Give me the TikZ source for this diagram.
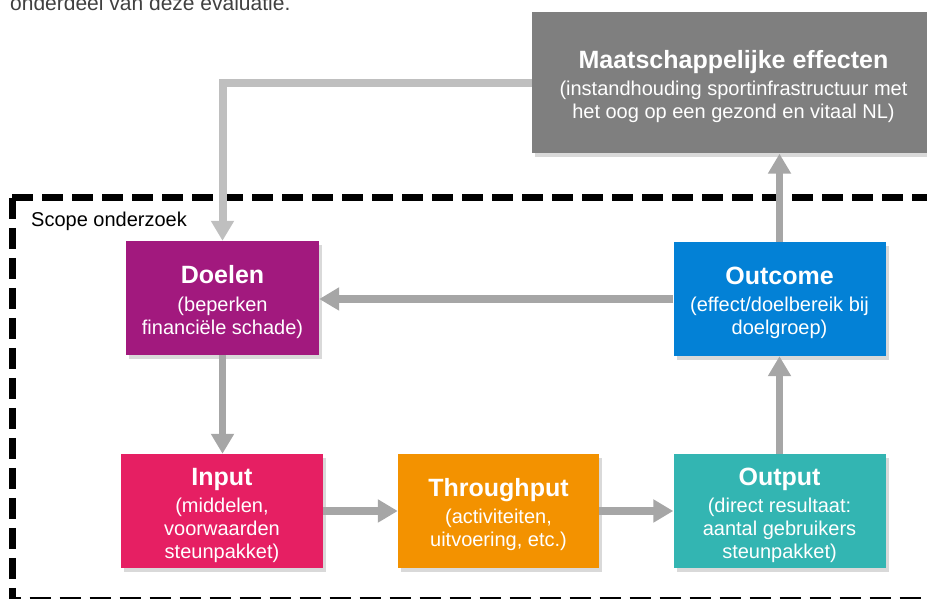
\documentclass[tikz,border=0pt]{standalone}
\usepackage{fontspec}
\setmainfont{Liberation Sans}
\usetikzlibrary{arrows.meta,shadows}
\definecolor{maatgray}{HTML}{7F7F7F}
\definecolor{doelpaars}{HTML}{A2197E}
\definecolor{outblauw}{HTML}{0381D6}
\definecolor{inroze}{HTML}{E61F63}
\definecolor{throranje}{HTML}{F39200}
\definecolor{outturkoois}{HTML}{33B5B2}
\definecolor{pijlgray}{HTML}{A6A6A6}
\definecolor{teruggray}{HTML}{BFBFBF}
\definecolor{tekstgray}{HTML}{404040}
\newcommand{\kop}[1]{{\fontsize{25}{27}\selectfont\bfseries\rule{0pt}{26pt}#1}}
\begin{document}
\begin{tikzpicture}[x=1pt,y=1pt,>={Triangle[width=22pt,length=20pt]},
  blok/.style={inner sep=0pt,text=white,align=center,minimum height=114pt,
    font=\fontsize{20}{23}\selectfont,
    drop shadow={shadow xshift=3pt,shadow yshift=-4pt,opacity=.3}},
  pijl/.style={->,line width=7.5pt,draw=pijlgray},
  scopelijn/.style={line width=7pt,dash pattern=on 21pt off 9pt}]
\useasboundingbox (0,0) rectangle (927,599);
\node[anchor=base west,inner sep=0pt,text=tekstgray,font=\fontsize{21}{25}\selectfont] (intro) at (10,588.5) {onderdeel van deze evaluatie.};
% scope onderzoek
\draw[scopelijn] (12,401) -- (950,401);
\draw[scopelijn] (12,401) -- (12,-1.5) -- (950,-1.5);
\node[anchor=base west,inner sep=0pt,font=\fontsize{20}{23}\selectfont] (scope) at (31,372) {Scope onderzoek};
% blokken
\node[blok,fill=maatgray,minimum width=403pt,minimum height=141pt] (maat) at (733.5,516) {\kop{Maatschappelijke effecten}\\[4pt](instandhouding sportinfrastructuur met\\het oog op een gezond en vitaal NL)};
\node[blok,fill=doelpaars,minimum width=193pt] (doelen) at (222.5,301) {\kop{Doelen}\\[5pt](beperken\\financiële schade)};
\node[blok,fill=outblauw,minimum width=212pt] (outcome) at (779.5,300) {\kop{Outcome}\\[4pt](effect/doelbereik bij\\doelgroep)};
\node[blok,fill=inroze,minimum width=202pt] (input) at (222,88) {\kop{Input}\\[4pt](middelen,\\voorwaarden\\steunpakket)};
\node[blok,fill=throranje,minimum width=201pt] (throughput) at (498.5,88) {\kop{Throughput}\\[4pt](activiteiten,\\uitvoering, etc.)};
\node[blok,fill=outturkoois,minimum width=212pt] (output) at (779.5,88) {\kop{Output}\\[4pt](direct resultaat:\\aantal gebruikers\\steunpakket)};
% pijlen
\draw[pijl,draw=teruggray,line width=8pt] (maat.west |- 0,515.5) -| (doelen.north);
\draw[pijl] (outcome.north) -- (outcome.north |- maat.south);
\draw[pijl] (outcome.west) -- (outcome.west -| doelen.east);
\draw[pijl] (doelen.south) -- (doelen.south |- input.north);
\draw[pijl] (input) -- (throughput);
\draw[pijl] (throughput) -- (output);
\draw[pijl] (output) -- (outcome);
\end{tikzpicture}
\end{document}
